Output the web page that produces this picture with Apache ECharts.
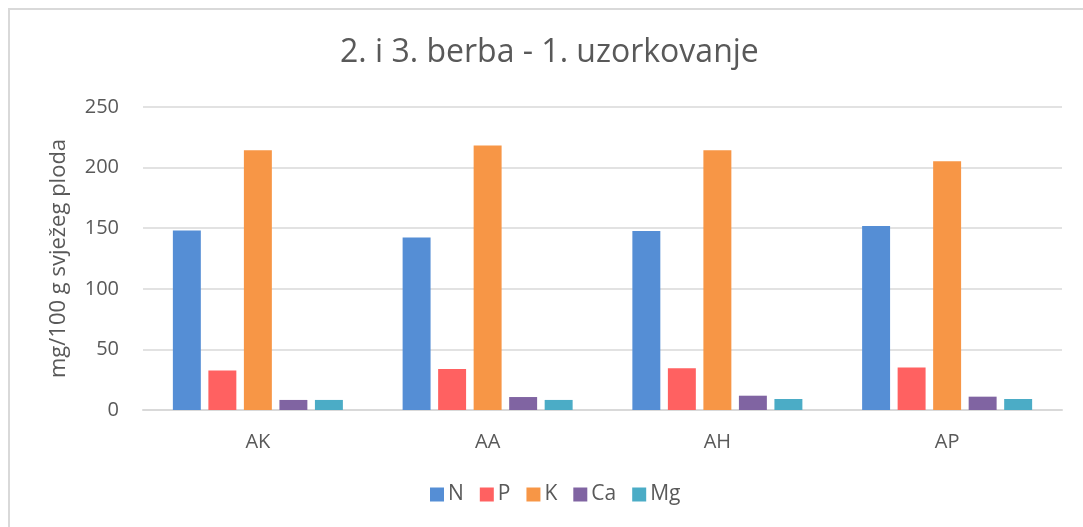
<!DOCTYPE html>
<html>
<head>
<meta charset="utf-8">
<title>2. i 3. berba - 1. uzorkovanje</title>
<script src="https://cdn.jsdelivr.net/npm/echarts@6/dist/echarts.min.js"></script>
<style>
  html, body { margin: 0; padding: 0; background: #fff; }
  .frame {
    position: absolute;
    left: 8px; top: 8px;
    width: 1075px; height: 519px;
    border-left: 2px solid #d9d9d9;
    border-top: 2px solid #d9d9d9;
  }
  #chart { position: absolute; left: 0; top: 0; width: 1083px; height: 527px; }
</style>
</head>
<body>
<div class="frame"></div>
<div id="chart"></div>
<script>
  // podaci
  const categories = ['AK', 'AA', 'AH', 'AP'];
  const seriesNames = ['N', 'P', 'K', 'Ca', 'Mg'];
  const valN = [148.2, 142.4, 147.6, 151.8];
  const valP = [32.5, 33.9, 34.4, 35.0];
  const valK = [214.3, 218.2, 214.3, 205.2];
  const valCa = [8.3, 10.7, 11.8, 11.0];
  const valMg = [8.3, 8.3, 9.1, 9.1];
  const yTicks = [0, 50, 100, 150, 200, 250];

  const colors = ['#558ED5', '#FF6161', '#F79646', '#8064A2', '#4BACC6'];
  const allValues = [valN, valP, valK, valCa, valMg];
  const font = "'Open Sans', 'Liberation Sans', sans-serif";
  const textColor = '#595959';

  let myChart = echarts.init(document.getElementById('chart'));
  let option = {
    color: colors,
    animation: false,
    textStyle: { fontFamily: font },
    title: {
      text: '2. i 3. berba - 1. uzorkovanje',
      left: 335,
      top: 32,
      textStyle: { fontFamily: font, fontSize: 32, fontWeight: 'normal', color: textColor }
    },
    legend: {
      data: seriesNames,
      bottom: 17,
      left: 425,
      icon: 'rect',
      itemWidth: 14,
      itemHeight: 14,
      itemGap: 16,
      textStyle: { fontFamily: font, fontSize: 21, color: textColor, padding: [0, 0, 0, -1] }
    },
    grid: {
      left: 143,
      right: 21,
      top: 107,
      bottom: 117
    },
    xAxis: {
      type: 'category',
      data: categories,
      axisLine: { lineStyle: { color: '#d9d9d9', width: 2 } },
      axisTick: { show: false },
      axisLabel: { fontFamily: font, fontSize: 20, color: textColor, margin: 22 }
    },
    yAxis: {
      type: 'value',
      min: yTicks[0],
      max: yTicks[yTicks.length - 1],
      interval: 50,
      name: 'mg/100 g svježeg ploda',
      nameLocation: 'middle',
      nameGap: 73,
      nameTextStyle: { fontFamily: font, fontSize: 22, color: textColor },
      axisLine: { show: false },
      axisTick: { show: false },
      axisLabel: { fontFamily: font, fontSize: 20, color: textColor, margin: 24 },
      splitLine: { lineStyle: { color: '#d9d9d9', width: 1.5 } }
    },
    series: seriesNames.map((name, i) => ({
      name: name,
      type: 'bar',
      data: allValues[i],
      barCategoryGap: '26%',
      barGap: '27%',
      itemStyle: { color: colors[i] }
    }))
  };
  myChart.setOption(option);
</script>
</body>
</html>
